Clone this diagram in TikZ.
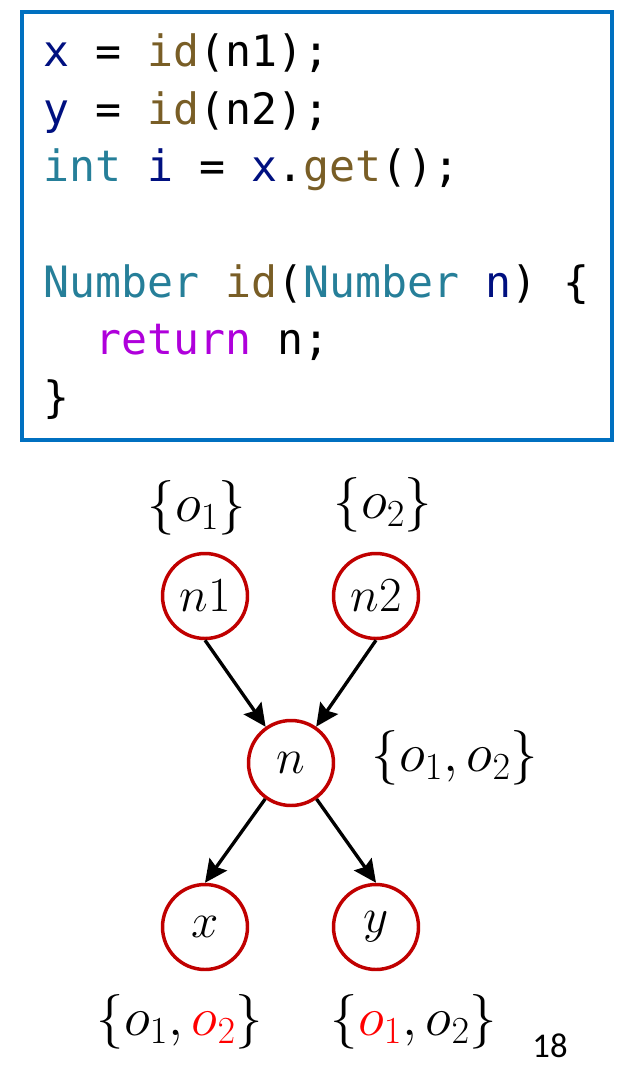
\RequirePackage{fix-cm}
\documentclass[tikz,border=0pt]{standalone}
\usepackage{fontspec}
\setmonofont{DejaVu Sans Mono}
\newfontfamily\pagenumfont{Carlito}
\usetikzlibrary{positioning,arrows.meta}

\definecolor{codevar}{HTML}{001080}
\definecolor{codefun}{HTML}{795E26}
\definecolor{codetype}{HTML}{267F99}
\definecolor{codekw}{HTML}{AF00DB}
\definecolor{frameblue}{HTML}{0070C0}
\definecolor{nodered}{HTML}{C00000}
\definecolor{setred}{HTML}{FF0000}

\newcommand{\cvar}[1]{\textcolor{codevar}{#1}}
\newcommand{\cfun}[1]{\textcolor{codefun}{#1}}
\newcommand{\ctype}[1]{\textcolor{codetype}{#1}}
\newcommand{\ckw}[1]{\textcolor{codekw}{#1}}

\begin{document}
\begin{tikzpicture}[
    x=0.75pt, y=-0.75pt,
    on grid,
    node distance=128.25pt,
    every node/.style={font=\fontsize{36.75}{44}\selectfont},
    var/.style={
      % The shape:
      circle,
      % The size:
      minimum size=63.75pt,
      inner sep=0pt,
      % The border:
      line width=2.6pt,
      draw=nodered,
    },
    ptsto/.style={inner sep=0pt, font=\fontsize{41}{48}\selectfont},
    flow/.style={-{Stealth[length=17pt,width=16pt,inset=2.5pt]}, line width=2.5pt},
    codeline/.style={anchor=base west, inner sep=0pt,
      font=\ttfamily\fontsize{32.4}{43}\selectfont},
    codeframe/.style={draw=frameblue, line width=2.3pt},
  ]

    \useasboundingbox (0,0) rectangle (639,1066);

    % the code
    \draw[codeframe] (22,12) rectangle (612,440);
    \foreach \row/\codetext in {
        0/{\cvar{x} = \cfun{id}(n1);},
        1/{\cvar{y} = \cfun{id}(n2);},
        2/{\ctype{int} \cvar{i} = \cvar{x}.\cfun{get}();},
        4/{\ctype{Number} \cfun{id}(\ctype{Number} \cvar{n}) \{},
        5/{\hphantom{xx}\ckw{return} n;},
        6/{\}}}
      \node[codeline] (line\row) at (43, 67+57.5*\row) {\codetext};

    % the graph
    \node[var] (n) at (291,763) {$n$};
    \node[var] (n1) [above left=125.25pt and 64.5pt of n] {$n1$};
    \node[var] (n2) [right=of n1] {$n2$};
    \node[var] (x) [below left=123pt and 64.5pt of n] {$x$};
    \node[var] (y) [right=of x] {$y$};

    \draw[flow] (n1.south) -- (n);
    \draw[flow] (n2.south) -- (n);
    \draw[flow] (n) -- (x.north);
    \draw[flow] (n) -- (y.north);

    % points-to sets
    \node[ptsto] (n1set) [above=66pt of n1, xshift=-6pt] {$\{o_1\}$};
    \node[ptsto] (n2set) [above=68.25pt of n2, xshift=5.25pt] {$\{o_2\}$};
    \node[ptsto] (nset) [right=123pt of n, yshift=3.75pt] {$\{o_1, o_2\}$};
    \node[ptsto] (xset) [below=71.25pt of x, xshift=-18.75pt]
          {$\{o_1, \textcolor{setred}{o_2}\}$};
    \node[ptsto] (yset) [below=71.25pt of y, xshift=28.5pt]
          {$\{\textcolor{setred}{o_1}, o_2\}$};

    \node[inner sep=0pt, anchor=base, font=\pagenumfont\fontsize{26}{30}\selectfont] (pagenum) at (550,1057) {18};
  \end{tikzpicture}
\end{document}
